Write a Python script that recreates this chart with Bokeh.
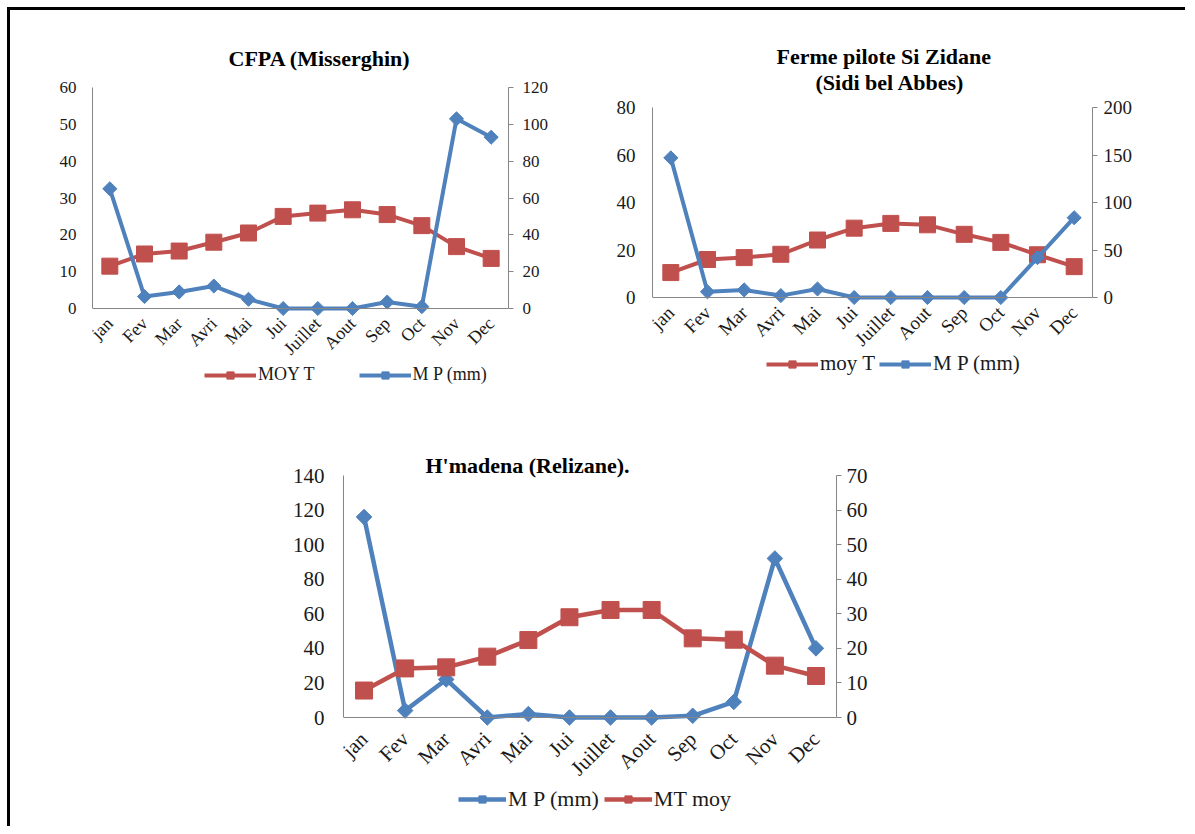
import math
from bokeh.plotting import figure
from bokeh.models import (Range1d, LinearAxis, FixedTicker, FactorRange, Legend,
                          LegendItem, Title, Spacer)
from bokeh.layouts import row, column
from bokeh.embed import file_html
from bokeh.resources import INLINE

# ---------------- data ----------------
months = ["jan", "Fev", "Mar", "Avri", "Mai", "Jui", "Juillet", "Aout", "Sep", "Oct", "Nov", "Dec"]

# CFPA (Misserghin)
cfpa_moy_t = [11.5, 14.8, 15.6, 18.0, 20.5, 25.0, 25.9, 26.8, 25.5, 22.5, 16.8, 13.6]
cfpa_mp = [65, 6.5, 9, 12.2, 5, 0, 0, 0, 3.5, 1, 103, 93]
cfpa_left_ticks = [0, 10, 20, 30, 40, 50, 60]
cfpa_right_ticks = [0, 20, 40, 60, 80, 100, 120]

# Ferme pilote Si Zidane (Sidi bel Abbes)
sba_moy_t = [10.5, 16.0, 16.8, 18.2, 24.2, 29.2, 31.2, 30.6, 26.6, 23.2, 18.0, 13.0]
sba_mp = [147, 6, 8, 2, 9, 0, 0, 0, 0, 0, 42, 84]
sba_left_ticks = [0, 20, 40, 60, 80]
sba_right_ticks = [0, 50, 100, 150, 200]

# H'madena (Relizane)
rel_mp = [116, 4, 22, 0, 2, 0, 0, 0, 1, 9, 92, 40]
rel_mt_moy = [7.8, 14.2, 14.5, 17.6, 22.4, 29.0, 31.1, 31.1, 22.9, 22.5, 15.0, 12.0]
rel_left_ticks = [0, 20, 40, 60, 80, 100, 120, 140]
rel_right_ticks = [0, 10, 20, 30, 40, 50, 60, 70]

BLUE = "#4F81BD"
RED = "#C0504D"
AXIS = "#868686"
TXT = "#1a1a1a"
FONT = "Liberation Serif"


def chart(w, h, ml, mr, mt, pos_px, below_px, lt, rt, fs_tick, fs_x, xstand, series,
          leg_xy, leg_spacing, fs_leg, glyph_w, lw, sq, dm, lstand, rstand):
    # the frame reaches below the zero line so the month labels and legend sit inside it
    l_start = -lt[-1] * below_px / pos_px
    r_start = -rt[-1] * below_px / pos_px
    p = figure(width=w, height=h, x_range=FactorRange(factors=months),
               y_range=Range1d(l_start, lt[-1]), output_backend="svg",
               toolbar_location=None, min_border_left=ml, min_border_right=mr,
               min_border_top=mt, min_border_bottom=0)
    p.frame_align = False
    p.extra_y_ranges = {"right": Range1d(r_start, rt[-1])}
    p.outline_line_color = None
    p.grid.visible = False
    p.background_fill_color = "white"
    p.border_fill_color = "white"

    ya = p.yaxis[0]
    ya.ticker = FixedTicker(ticks=lt)
    ya.bounds = (lt[0], lt[-1])
    ya.axis_line_color = AXIS
    ya.major_tick_out = 0
    ya.major_tick_in = 0
    ya.minor_tick_out = 0
    ya.minor_tick_in = 0
    ya.major_label_standoff = lstand
    ya.major_label_text_font = FONT
    ya.major_label_text_font_size = fs_tick
    ya.major_label_text_color = TXT

    ra = LinearAxis(y_range_name="right", ticker=FixedTicker(ticks=rt),
                    bounds=(rt[0], rt[-1]))
    ra.axis_line_color = AXIS
    ra.major_tick_line_color = AXIS
    ra.major_tick_out = 5
    ra.major_tick_in = 0
    ra.minor_tick_out = 0
    ra.minor_tick_in = 0
    ra.major_label_standoff = rstand
    ra.major_label_text_font = FONT
    ra.major_label_text_font_size = fs_tick
    ra.major_label_text_color = TXT
    p.add_layout(ra, "right")

    xa = p.xaxis[0]
    xa.fixed_location = 0
    xa.axis_line_color = AXIS
    xa.major_tick_out = 0
    xa.major_tick_in = 0
    xa.major_label_orientation = math.pi / 4
    xa.major_label_standoff = xstand
    xa.major_label_text_font = FONT
    xa.major_label_text_font_size = fs_x
    xa.major_label_text_color = TXT

    items = []
    for label, vals, rng, color, marker in series:
        kw = {} if rng == "left" else {"y_range_name": "right"}
        ln = p.line(months, vals, line_width=lw, line_color=color, **kw)
        if marker == "square":
            mk = p.scatter(months, vals, marker="square", size=sq, fill_color=color,
                           line_color=color, **kw)
        else:
            mk = p.scatter(months, vals, marker="square", size=dm, angle=math.pi / 4,
                           fill_color=color, line_color=color, **kw)
        items.append(LegendItem(label=label, renderers=[ln, mk]))

    leg = Legend(items=items, location=leg_xy, orientation="horizontal",
                 border_line_color=None, background_fill_alpha=0, padding=0,
                 spacing=leg_spacing, glyph_width=glyph_w, glyph_height=18,
                 label_height=18, label_standoff=2, margin=0,
                 label_text_font=FONT, label_text_font_size=fs_leg,
                 label_text_color=TXT)
    p.add_layout(leg)
    return p


def style_title(t, text, offset, size, standoff):
    t.text = text
    t.align = "left"
    t.offset = offset
    t.text_font = FONT
    t.text_font_style = "bold"
    t.text_font_size = size
    t.standoff = standoff
    t.text_color = "black"


# Chart 1
p1 = chart(570, 390, 82, 72, 77, 221, 92, cfpa_left_ticks, cfpa_right_ticks, "17px", "18px", 12,
           [("MOY T", cfpa_moy_t, "left", RED, "square"),
            ("M P (mm)", cfpa_mp, "right", BLUE, "diamond")],
           (112, 15), 44, "18px", 52, 4, 16, 10, 16, 9)
style_title(p1.title, "CFPA (Misserghin)", 136, "22px", 34)

# Chart 2
p2 = chart(605, 390, 72, 93, 97, 190, 103, sba_left_ticks, sba_right_ticks, "19px", "19px", 12,
           [("moy T", sba_moy_t, "left", RED, "square"),
            ("M P (mm)", sba_mp, "right", BLUE, "diamond")],
           (114, 24), 4, "21px", 52, 4, 16, 10, 17, 6)
style_title(p2.title, "Ferme pilote Si Zidane", 124, "22px", -26)
t2 = Title()
style_title(t2, "(Sidi bel Abbes)", 163, "22px", 25)
p2.add_layout(t2, "above")

# Chart 3
p3 = chart(670, 426, 93, 84, 75, 242, 109, rel_left_ticks, rel_right_ticks, "21px", "21px", 18,
           [("M P (mm)", rel_mp, "left", BLUE, "diamond"),
            ("MT moy", rel_mt_moy, "right", RED, "square")],
           (115, 14), 5, "22px", 48, 4.5, 17, 11, 19, 5)
style_title(p3.title, "H'madena (Relizane).", 82, "22px", -4)

inner = column(row(p1, p2), row(Spacer(width=240, height=10), p3),
               styles={"border-left": "3px solid black", "border-top": "3px solid black",
                       "background-color": "white"})
layout = column(inner, styles={"padding-left": "7px", "padding-top": "7px",
                               "background-color": "white"})

open("out.html", "w").write(file_html(layout, INLINE))
